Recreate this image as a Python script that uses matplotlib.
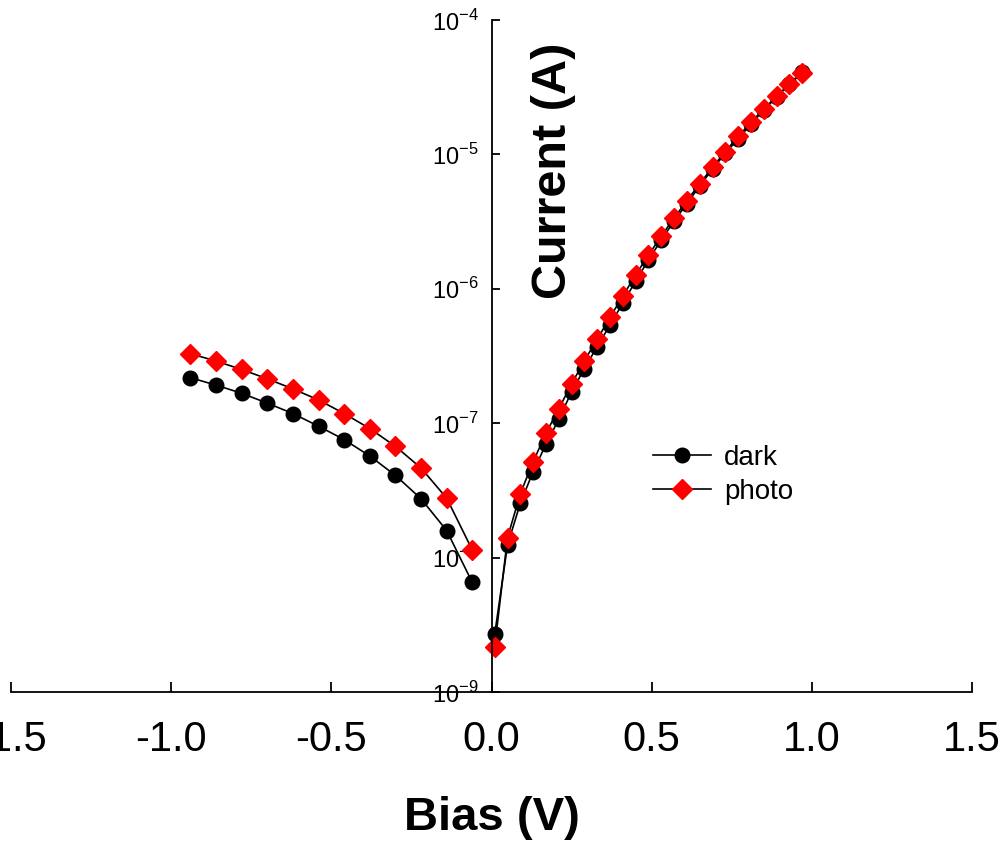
import matplotlib
matplotlib.use("Agg")
import matplotlib.pyplot as plt
import numpy as np

plt.rcParams['font.family'] = ['Liberation Sans', 'DejaVu Sans']
plt.rcParams['axes.unicode_minus'] = False
plt.rcParams['mathtext.fontset'] = 'custom'
plt.rcParams['mathtext.rm'] = 'Liberation Sans'

# reverse bias branch
bias_neg = [-0.94, -0.86, -0.78, -0.70, -0.62, -0.54, -0.46, -0.38, -0.30, -0.22, -0.14, -0.06]
dark_neg = [2.18e-7, 1.92e-7, 1.67e-7, 1.41e-7, 1.18e-7, 9.5e-8, 7.55e-8, 5.70e-8,
            4.09e-8, 2.74e-8, 1.59e-8, 6.54e-9]
photo_neg = [3.29e-7, 2.90e-7, 2.51e-7, 2.14e-7, 1.80e-7, 1.49e-7, 1.18e-7, 9.12e-8,
             6.73e-8, 4.64e-8, 2.77e-8, 1.14e-8]

# forward bias branch
bias_pos = [0.01, 0.05, 0.09, 0.13, 0.17, 0.21, 0.25, 0.29, 0.33, 0.37, 0.41, 0.45, 0.49,
            0.53, 0.57, 0.61, 0.65, 0.69, 0.73, 0.77, 0.81, 0.85, 0.89, 0.93, 0.97]
dark_pos = [2.69e-9, 1.24e-8, 2.54e-8, 4.36e-8, 6.97e-8, 1.07e-7, 1.71e-7, 2.55e-7, 3.72e-7,
            5.38e-7, 7.84e-7, 1.14e-6, 1.64e-6, 2.31e-6, 3.19e-6, 4.31e-6, 5.82e-6, 7.79e-6,
            1.02e-5, 1.31e-5, 1.68e-5, 2.14e-5, 2.67e-5, 3.34e-5, 4.10e-5]
photo_pos = [2.17e-9, 1.41e-8, 2.99e-8, 5.17e-8, 8.41e-8, 1.28e-7, 1.96e-7, 2.92e-7, 4.21e-7,
             6.14e-7, 8.84e-7, 1.27e-6, 1.78e-6, 2.47e-6, 3.36e-6, 4.53e-6, 6.05e-6, 8.02e-6,
             1.05e-5, 1.36e-5, 1.73e-5, 2.18e-5, 2.70e-5, 3.33e-5, 4.03e-5]

xticks = [-1.5, -1.0, -0.5, 0.0, 0.5, 1.0, 1.5]
yticks = [1e-9, 1e-8, 1e-7, 1e-6, 1e-5, 1e-4]
ytick_labels = ['$10^{-9}$', '$10^{-8}$', '$10^{-7}$', '$10^{-6}$', '$10^{-5}$', '$10^{-4}$']

fig = plt.figure(figsize=(10.08, 8.44), dpi=100)
ax = fig.add_axes([11/1008, 152/844, 961/1008, 672/844])

dark_style = dict(color='black', lw=1.2, marker='o', ms=10.5, mfc='black', mec='black')
photo_style = dict(color='black', lw=1.2, marker='D', ms=10, mfc='red', mec='red')

ax.plot(bias_neg, dark_neg, label='dark', **dark_style)
ax.plot(bias_pos, dark_pos, **dark_style)
ax.plot(bias_neg, photo_neg, label='photo', **photo_style)
ax.plot(bias_pos, photo_pos, **photo_style)

ax.set_yscale('log')
ax.set_ylim(1e-9, 1e-4)
ax.set_xlim(-1.5, 1.5)
ax.set_xticks(xticks)
ax.set_xticklabels([f'{v:.1f}' for v in xticks])
ax.set_yticks(yticks)
ax.set_yticklabels(ytick_labels)
ax.minorticks_off()

ax.spines['top'].set_visible(False)
ax.spines['right'].set_visible(False)
ax.spines['left'].set_position(('data', 0))
ax.spines['left'].set_linewidth(1.3)
ax.spines['bottom'].set_linewidth(1.3)

ax.tick_params(axis='x', direction='in', length=7, width=1.3, labelsize=30, pad=20)
ax.tick_params(axis='y', direction='in', length=6, width=1.3, labelsize=17, pad=9)

ax.set_xlabel('Bias (V)', fontsize=34, fontweight='bold', labelpad=26)
ax.set_ylabel('Current (A)', fontsize=35, fontweight='bold')
ax.yaxis.set_label_coords(0.565, 0.775)
ax.yaxis.label.set_va('center')

ax.legend(loc='upper left', bbox_to_anchor=(0.668, 0.368), frameon=False, fontsize=20,
          handlelength=2.1, handletextpad=0.45, labelspacing=0.3, borderpad=0,
          borderaxespad=0)

fig.savefig('out.png', dpi=100)
